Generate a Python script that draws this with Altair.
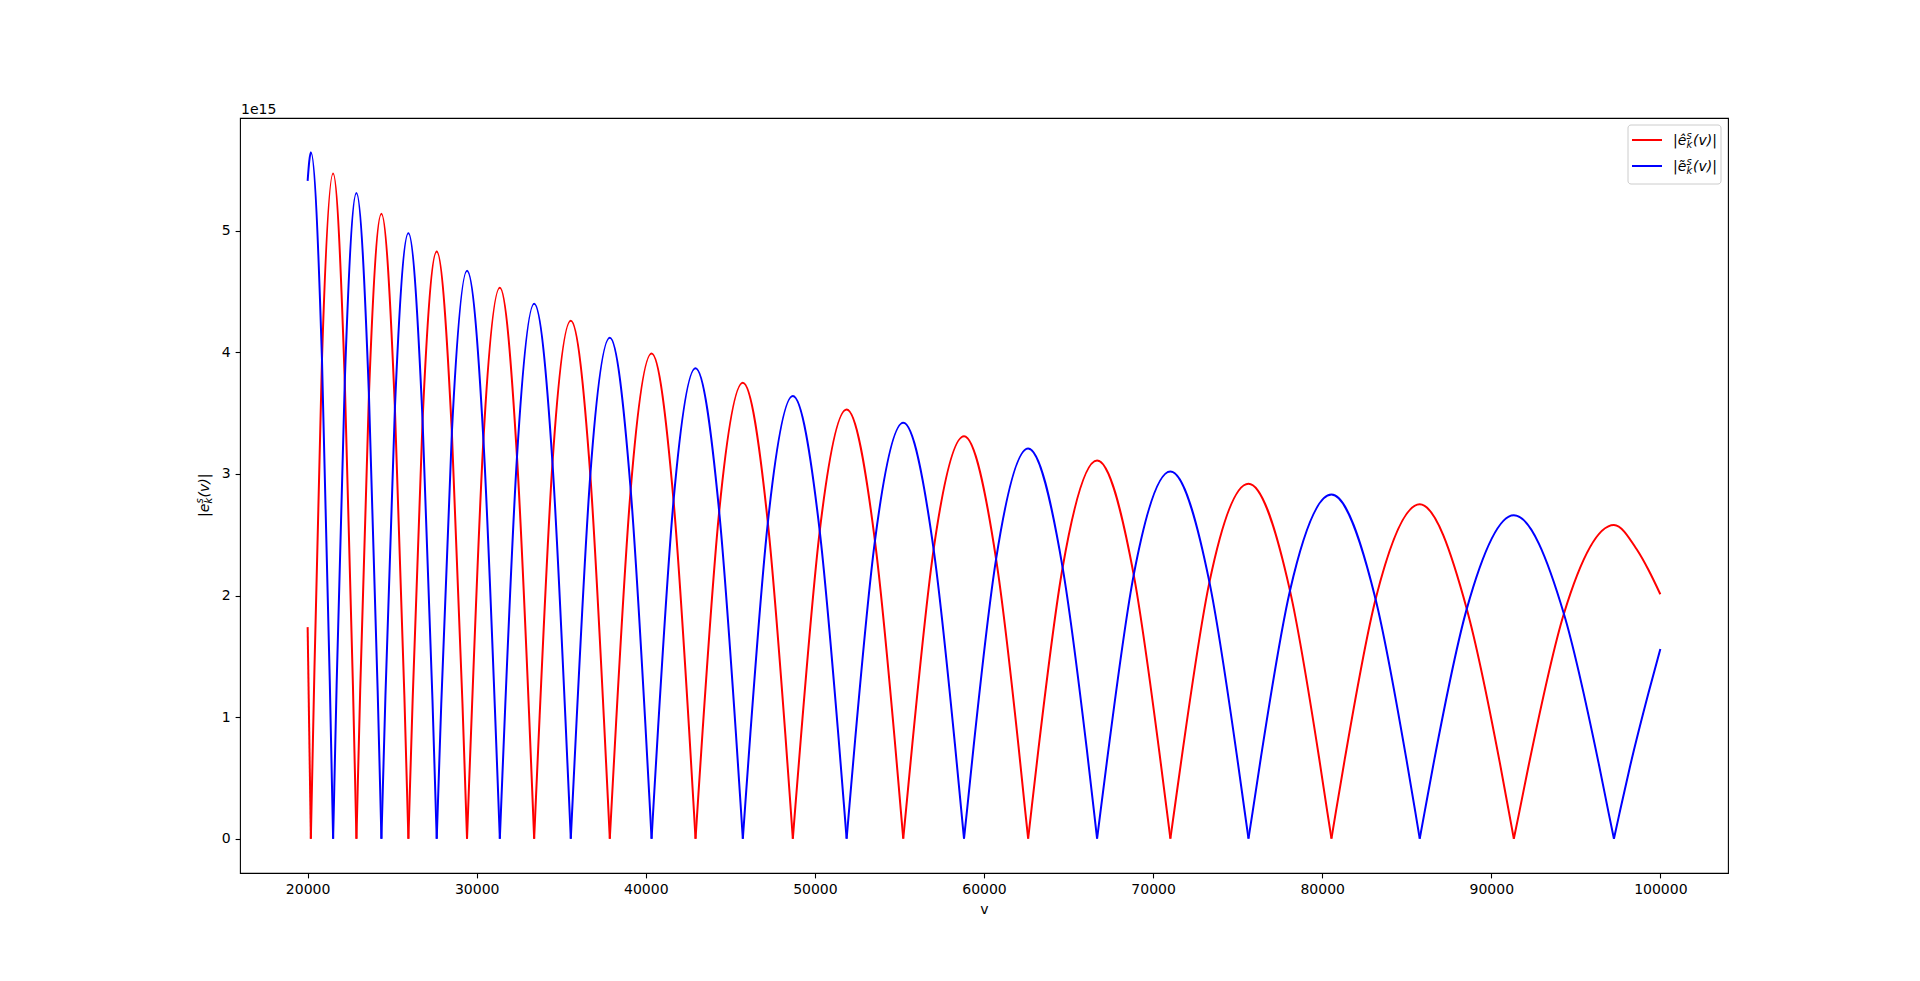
import altair as alt
import pandas as pd

# ---- data (values of |e| in units of 1e15) ----
red_v = [20000, 20190, 20256, 20388, 20848, 21507,
         22197, 22679, 22817, 22886, 22960, 23108, 23625, 24363,
         25161, 25720, 25879, 25959, 26043, 26210, 26797, 27634,
         28530, 29157, 29336, 29426, 29523, 29717, 30396, 31366,
         32381, 33092, 33295, 33396, 33504, 33721, 34480, 35563,
         36717, 37524, 37755, 37870, 37994, 38241, 39105, 40340,
         41640, 42550, 42810, 42940, 43080, 43360, 44339, 45737,
         47216, 48250, 48546, 48694, 48853, 49171, 50285, 51875,
         53550, 54722, 55057, 55224, 55404, 55763, 57021, 58818,
         60715, 62042, 62421, 62611, 62815, 63223, 64650, 66688,
         68855, 70372, 70805, 71022, 71253, 71715, 73332, 75642,
         78095, 79812, 80303, 80548, 80809, 81331, 83158, 85768,
         88551, 90499, 91056, 91334, 91630, 92222, 94294, 97254,
         98600, 99300, 100000]
red_e = [1.74, 0.0, 0.43, 1.30, 3.94, 5.47,
         3.76, 1.26, 0.42, 0.0, 0.41, 1.22, 3.65, 5.14,
         3.54, 1.18, 0.39, 0.0, 0.38, 1.14, 3.44, 4.83,
         3.34, 1.11, 0.37, 0.0, 0.36, 1.07, 3.28, 4.53,
         3.14, 1.04, 0.35, 0.0, 0.34, 1.01, 3.09, 4.26,
         2.99, 0.98, 0.33, 0.0, 0.32, 0.95, 2.87, 3.99,
         2.78, 0.92, 0.31, 0.0, 0.30, 0.89, 2.69, 3.75,
         2.60, 0.86, 0.29, 0.0, 0.28, 0.83, 2.53, 3.53,
         2.45, 0.81, 0.27, 0.0, 0.26, 0.78, 2.38, 3.31,
         2.30, 0.76, 0.25, 0.0, 0.25, 0.74, 2.23, 3.11,
         2.17, 0.71, 0.24, 0.0, 0.23, 0.69, 2.11, 2.92,
         2.04, 0.67, 0.22, 0.0, 0.22, 0.65, 1.97, 2.75,
         1.89, 0.63, 0.21, 0.0, 0.20, 0.61, 1.85, 2.58,
         2.38, 2.21, 2.01]

blue_v = [20000, 20095, 20190, 20848, 21309, 21441, 21507,
          21576, 21714, 22197, 22886, 23625, 24141, 24289, 24363,
          24443, 24602, 25161, 25959, 26797, 27383, 27550, 27634,
          27724, 27903, 28530, 29426, 30396, 31075, 31269, 31366,
          31468, 31671, 32381, 33396, 34480, 35238, 35455, 35563,
          35678, 35909, 36717, 37870, 39105, 39970, 40217, 40340,
          40470, 40730, 41640, 42940, 44339, 45317, 45597, 45737,
          45885, 46181, 47216, 48694, 50285, 51398, 51716, 51875,
          52042, 52377, 53550, 55224, 57021, 58279, 58638, 58818,
          59008, 59387, 60715, 62611, 64650, 66076, 66484, 66688,
          66905, 67338, 68855, 71022, 73332, 74949, 75411, 75642,
          75887, 76378, 78095, 80548, 83158, 84985, 85507, 85768,
          86046, 86603, 88551, 91334, 94294, 96366, 96958, 97254,
          97569, 98199, 99300, 100000]
blue_e = [5.41, 5.57, 5.645, 3.94, 1.30, 0.43, 0.0,
          0.42, 1.26, 3.76, 5.31, 3.65, 1.22, 0.41, 0.0,
          0.39, 1.18, 3.54, 4.98, 3.44, 1.14, 0.38, 0.0,
          0.37, 1.11, 3.34, 4.67, 3.28, 1.07, 0.36, 0.0,
          0.35, 1.04, 3.14, 4.40, 3.09, 1.01, 0.34, 0.0,
          0.33, 0.98, 2.99, 4.12, 2.87, 0.95, 0.32, 0.0,
          0.31, 0.92, 2.78, 3.87, 2.69, 0.89, 0.30, 0.0,
          0.29, 0.86, 2.60, 3.64, 2.53, 0.83, 0.28, 0.0,
          0.27, 0.81, 2.45, 3.42, 2.38, 0.78, 0.26, 0.0,
          0.25, 0.76, 2.30, 3.21, 2.23, 0.74, 0.25, 0.0,
          0.24, 0.71, 2.17, 3.02, 2.11, 0.69, 0.23, 0.0,
          0.22, 0.67, 2.04, 2.83, 1.97, 0.65, 0.22, 0.0,
          0.21, 0.63, 1.89, 2.66, 1.85, 0.61, 0.20, 0.0,
          0.20, 0.59, 1.20, 1.56]

x_ticks = [20000, 30000, 40000, 50000, 60000, 70000, 80000, 90000, 100000]
y_ticks = [0, 1, 2, 3, 4, 5]
legend_heads = ["|\u00ea", "|\u1ebd"]     # |ê , |ẽ
legend_colors = ["#ff0000", "#0000ff"]
sup_text = "s"
sub_text = "k"
tail_text = "(v)|"
ylabel_head = "|e"
x_title = "v"
offset_text = "1e15"

FONT = "DejaVu Sans"
W, H = 1488, 755


def split_at_zeros(vs, es):
    """Group the points into arches; a zero point closes one arch and opens the next."""
    rows, seg = [], 0
    for v, e in zip(vs, es):
        rows.append({"v": v, "e": e, "seg": seg})
        if e == 0.0:
            seg += 1
            rows.append({"v": v, "e": e, "seg": seg})
    return pd.DataFrame(rows)


red_df = split_at_zeros(red_v, red_e)
blue_df = split_at_zeros(blue_v, blue_e)

xscale = alt.Scale(domain=[16000, 104000], nice=False, zero=False)
yscale = alt.Scale(domain=[-0.282, 5.927], nice=False, zero=False)

xaxis = alt.Axis(values=x_ticks, format="d", title=x_title, grid=False,
                 domain=False, ticks=True, tickColor="black", tickSize=4.9,
                 tickWidth=1.1, labelPadding=4.9, labelFont=FONT,
                 labelFontSize=14, labelColor="black", titleFont=FONT,
                 titleFontSize=14, titleFontWeight="normal", titleColor="black",
                 titleX=W / 2, titleY=36, titleBaseline="middle",
                 titleAlign="center")
yaxis = alt.Axis(values=y_ticks, format="d", title=None, grid=False,
                 domain=False, ticks=True, tickColor="black", tickSize=4.9,
                 tickWidth=1.1, labelPadding=4.9, labelFont=FONT,
                 labelFontSize=14, labelColor="black")


def curve(df, color):
    return alt.Chart(df).mark_line(
        color=color, strokeWidth=2, interpolate="monotone"
    ).encode(
        x=alt.X("v:Q", scale=xscale, axis=xaxis),
        y=alt.Y("e:Q", scale=yscale, axis=yaxis),
        detail="seg:N",
    )


red_line = curve(red_df, legend_colors[0])
blue_line = curve(blue_df, legend_colors[1])


def label(text, x, y, size=14, style="italic", angle=0, baseline="alphabetic"):
    kw = dict(align="left", baseline=baseline, font=FONT, fontSize=size,
              fontStyle=style, color="black")
    if angle:
        kw["angle"] = angle
    return alt.Chart(pd.DataFrame({"t": [text]})).mark_text(**kw).encode(
        x=alt.value(x), y=alt.value(y), text="t:N")


offset = label(offset_text, 1, -4, style="normal")

# y-axis title |e^s_k(v)| built from pieces, rotated
ytitle = [
    label(ylabel_head, -31, 399, angle=270),
    label(sup_text, -37, 385.5, size=10, angle=270),
    label(sub_text, -28, 385.5, size=10, angle=270),
    label(tail_text, -31, 379.5, angle=270),
]

one = pd.DataFrame({"a": [0]})
legend_box = alt.Chart(one).mark_rect(
    fill="white", fillOpacity=0.8, stroke="#cccccc", strokeWidth=1, cornerRadius=3
).encode(x=alt.value(1388), x2=alt.value(1481), y=alt.value(7), y2=alt.value(66))

legend_layers = [legend_box]
for i, (head, col) in enumerate(zip(legend_heads, legend_colors)):
    yy = 22 + 26 * i
    legend_layers.append(
        alt.Chart(one).mark_rule(color=col, strokeWidth=2).encode(
            x=alt.value(1392), x2=alt.value(1422), y=alt.value(yy))
    )
    legend_layers += [
        label(head, 1433, yy + 5),
        label(sup_text, 1446.5, yy - 1, size=10),
        label(sub_text, 1446.5, yy + 8, size=10),
        label(tail_text, 1453, yy + 5),
    ]

chart = alt.layer(red_line, blue_line, offset, *ytitle, *legend_layers).properties(
    width=W, height=H,
    autosize=alt.AutoSizeParams(type="none"),
    padding={"left": 232, "top": 110, "right": 170, "bottom": 90},
    background="white",
).configure_view(stroke="black", strokeWidth=1.1)

chart.save("out.html", embed_options={"renderer": "svg", "actions": False})
